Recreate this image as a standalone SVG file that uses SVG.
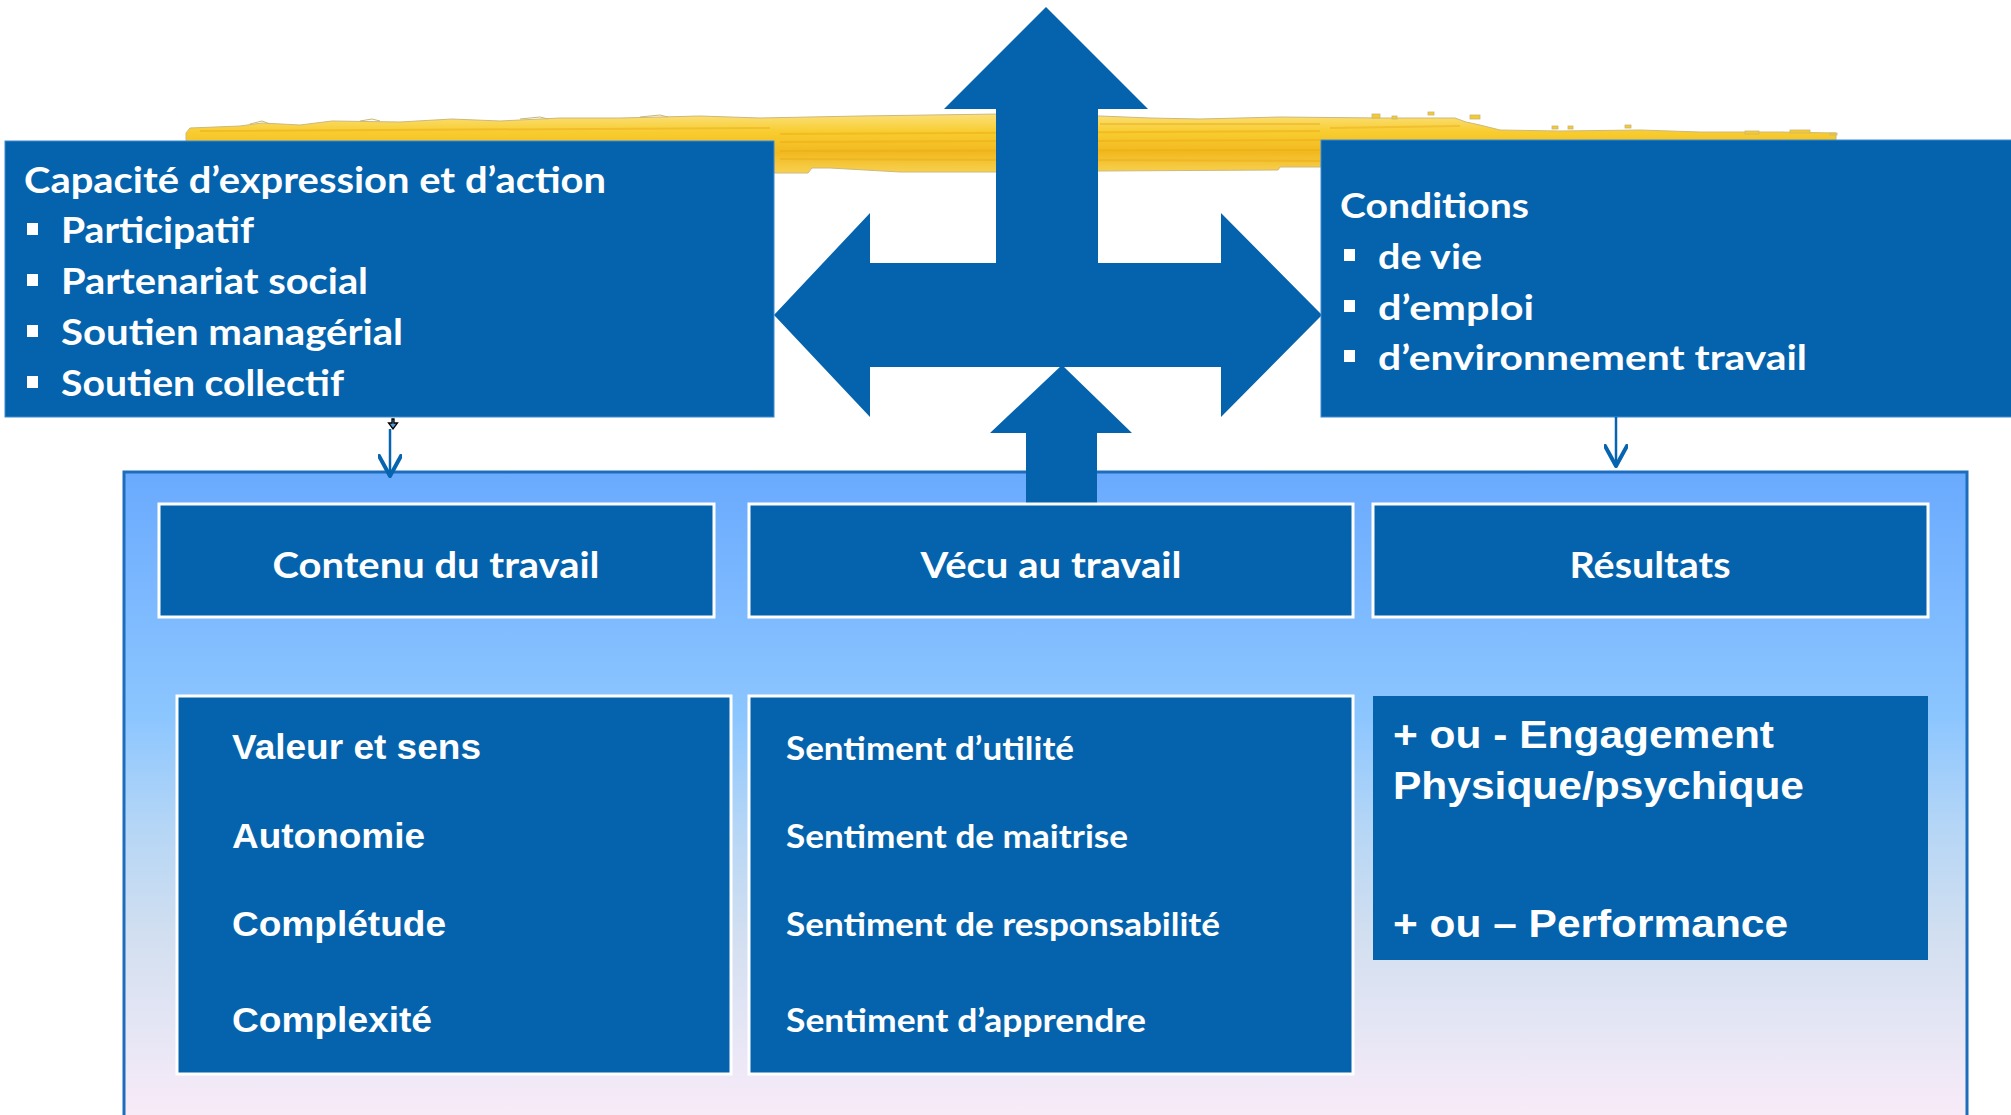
<svg xmlns="http://www.w3.org/2000/svg" width="2011" height="1115" viewBox="0 0 2011 1115">
  <defs>
    <linearGradient id="panelFill" x1="0" y1="0" x2="0" y2="1">
      <stop offset="0" stop-color="#6aaafe"/>
      <stop offset="0.38" stop-color="#8cc6ff"/>
      <stop offset="0.55" stop-color="#b5d6f6"/>
      <stop offset="0.72" stop-color="#d2dff0"/>
      <stop offset="0.87" stop-color="#e6e6f5"/>
      <stop offset="1" stop-color="#f9ebf8"/>
    </linearGradient>
    <linearGradient id="brush" x1="0" y1="0" x2="0" y2="1">
      <stop offset="0" stop-color="#fbe07a"/>
      <stop offset="0.3" stop-color="#f8cd30"/>
      <stop offset="0.65" stop-color="#f2b91f"/>
      <stop offset="1" stop-color="#f7d150"/>
    </linearGradient>
    <marker id="vee" markerUnits="userSpaceOnUse" viewBox="0 0 24 24" markerWidth="24" markerHeight="24" refX="22" refY="12" orient="auto">
      <path d="M2,1 L22,12 L2,23" fill="none" stroke="#0765b0" stroke-width="4" stroke-linecap="round" stroke-linejoin="round"/>
    </marker>
    <style>
      .blue { fill: #0563ad; }
      .framed { fill: #0563ad; stroke: #ffffff; stroke-width: 3; }
      .cal { font-family: Lato, "Open Sans", "Noto Sans", sans-serif; font-weight: 700; fill: #ffffff; }
      .ari { font-family: "Liberation Sans", Arial, sans-serif; font-weight: 700; fill: #ffffff; }
      .bullet { fill: #ffffff; }
      .link { fill: none; stroke: #0765b0; stroke-width: 2.5; }
      .speck { fill: #f6c92e; stroke: #c9b679; stroke-width: 0.8; }
      .streak { stroke: #e9a916; stroke-width: 2; opacity: 0.45; fill: none; }
    </style>
  </defs>

  <rect width="2011" height="1115" fill="#ffffff"/>

  <!-- yellow brush stroke behind the top row -->
  <g id="brush-stroke">
    <path d="M186,133 L190,128 L240,126 L262,123 L300,125 L332,121 L400,122 L452,119 L500,121 L560,118 L620,118 L700,116 L760,118 L860,116 L1000,114 L1100,116 L1150,118 L1200,119 L1280,117 L1380,118 L1455,118 L1466,122 L1480,125 L1500,130 L1560,131 L1640,130 L1700,132 L1780,132 L1836,133 L1836,160 L1321,160 L1321,167 L1280,167 L1278,170 L1100,171 L1000,172 L900,172 L830,168 L812,168 L808,173 L774,173 L774,160 L186,160 Z" fill="url(#brush)" stroke="#cdb97c" stroke-width="1"/>
    <path class="streak" d="M200,131 L770,128 M780,134 L1320,131 M780,142 L1320,140 M780,151 L1320,150 M780,159 L1320,161 M1100,124 L1320,124 M1330,128 L1460,126"/>
    <path d="M250,124 L262,121 L270,124 M360,121 L372,119 L380,121 M520,119 L540,117 L548,119 M640,117 L660,115 L668,117" stroke="#c9b679" stroke-width="1" fill="none"/>
    <rect class="speck" x="1372" y="114" width="8" height="4"/>
    <rect class="speck" x="1392" y="116" width="5" height="3"/>
    <rect class="speck" x="1428" y="112" width="6" height="3"/>
    <rect class="speck" x="1470" y="115" width="10" height="4"/>
    <rect class="speck" x="1552" y="126" width="6" height="3"/>
    <rect class="speck" x="1568" y="126" width="5" height="3"/>
    <rect class="speck" x="1625" y="125" width="6" height="3"/>
    <rect class="speck" x="1745" y="131" width="14" height="3"/>
    <rect class="speck" x="1790" y="130" width="20" height="3"/>
    <rect class="speck" x="1830" y="133" width="7" height="2"/>
  </g>

  <!-- four-way block arrow -->
  <g id="cross-arrow">
    <path class="blue" d="M1046,7 L1148,109 L1098,109 L1098,263 L1221,263 L1221,213 L1322,315 L1221,417 L1221,367 L870,367 L870,417 L774,315 L870,213 L870,263 L996,263 L996,109 L944,109 Z"/>
  </g>

  <!-- large panel -->
  <g id="panel">
    <rect x="124" y="472" width="1843" height="645" fill="url(#panelFill)" stroke="#1e6dbd" stroke-width="3"/>
  </g>

  <!-- upward arrow from the middle column -->
  <g id="rise-arrow">
    <path class="blue" d="M1062,365 L1132,433 L1097,433 L1097,505 L1026,505 L1026,433 L990,433 Z"/>
  </g>

  <g id="capacite">
    <rect x="5" y="141" width="769" height="276" class="blue" stroke="#3d8ad0" stroke-width="1"/>
    <text class="cal" x="24" y="193" font-size="37" textLength="582" lengthAdjust="spacingAndGlyphs">Capacité d’expression et d’action</text>
    <rect class="bullet" x="27" y="223" width="11" height="12"/>
    <text class="cal" x="61" y="243" font-size="37" textLength="193" lengthAdjust="spacingAndGlyphs">Participatif</text>
    <rect class="bullet" x="27" y="274" width="11" height="12"/>
    <text class="cal" x="61" y="294" font-size="37" textLength="307" lengthAdjust="spacingAndGlyphs">Partenariat social</text>
    <rect class="bullet" x="27" y="325" width="11" height="12"/>
    <text class="cal" x="61" y="345" font-size="37" textLength="342" lengthAdjust="spacingAndGlyphs">Soutien managérial</text>
    <rect class="bullet" x="27" y="376" width="11" height="12"/>
    <text class="cal" x="61" y="396" font-size="37" textLength="283" lengthAdjust="spacingAndGlyphs">Soutien collectif</text>
  </g>

  <g id="conditions">
    <rect x="1321" y="140" width="700" height="277" class="blue" stroke="#3d8ad0" stroke-width="1"/>
    <text class="cal" x="1340" y="218" font-size="35" textLength="189" lengthAdjust="spacingAndGlyphs">Conditions</text>
    <rect class="bullet" x="1344" y="249" width="11" height="12"/>
    <text class="cal" x="1378" y="269" font-size="35" textLength="104" lengthAdjust="spacingAndGlyphs">de vie</text>
    <rect class="bullet" x="1344" y="300" width="11" height="12"/>
    <text class="cal" x="1378" y="320" font-size="35" textLength="156" lengthAdjust="spacingAndGlyphs">d’emploi</text>
    <rect class="bullet" x="1344" y="350" width="11" height="12"/>
    <text class="cal" x="1378" y="370" font-size="35" textLength="429" lengthAdjust="spacingAndGlyphs">d’environnement travail</text>
  </g>

  <g id="contenu-header">
    <rect class="framed" x="159" y="504" width="555" height="113"/>
    <text class="cal" x="436" y="578" font-size="37" text-anchor="middle" textLength="327" lengthAdjust="spacingAndGlyphs">Contenu du travail</text>
  </g>

  <g id="vecu-header">
    <rect class="framed" x="749" y="504" width="604" height="113"/>
    <text class="cal" x="1051" y="578" font-size="37" text-anchor="middle" textLength="261" lengthAdjust="spacingAndGlyphs">Vécu au travail</text>
  </g>

  <g id="resultats-header">
    <rect class="framed" x="1373" y="504" width="555" height="113"/>
    <text class="cal" x="1650" y="578" font-size="37" text-anchor="middle" textLength="161" lengthAdjust="spacingAndGlyphs">Résultats</text>
  </g>

  <g id="contenu-items">
    <rect class="framed" x="177" y="696" width="554" height="378"/>
    <text class="ari" x="232" y="759" font-size="35" textLength="249" lengthAdjust="spacingAndGlyphs">Valeur et sens</text>
    <text class="ari" x="232" y="848" font-size="35" textLength="193" lengthAdjust="spacingAndGlyphs">Autonomie</text>
    <text class="ari" x="232" y="936" font-size="35" textLength="214" lengthAdjust="spacingAndGlyphs">Complétude</text>
    <text class="ari" x="232" y="1032" font-size="35" textLength="200" lengthAdjust="spacingAndGlyphs">Complexité</text>
  </g>

  <g id="vecu-items">
    <rect class="framed" x="749" y="696" width="604" height="378"/>
    <text class="cal" x="786" y="760" font-size="32" textLength="288" lengthAdjust="spacingAndGlyphs">Sentiment d’utilité</text>
    <text class="cal" x="786" y="848" font-size="32" textLength="342" lengthAdjust="spacingAndGlyphs">Sentiment de maitrise</text>
    <text class="cal" x="786" y="936" font-size="32" textLength="434" lengthAdjust="spacingAndGlyphs">Sentiment de responsabilité</text>
    <text class="cal" x="786" y="1032" font-size="32" textLength="360" lengthAdjust="spacingAndGlyphs">Sentiment d’apprendre</text>
  </g>

  <g id="resultats-items">
    <rect class="blue" x="1373" y="696" width="555" height="264"/>
    <text class="ari" x="1393" y="748" font-size="39" textLength="381" lengthAdjust="spacingAndGlyphs">+ ou - Engagement</text>
    <text class="ari" x="1393" y="799" font-size="39" textLength="411" lengthAdjust="spacingAndGlyphs">Physique/psychique</text>
    <text class="ari" x="1393" y="937" font-size="39" textLength="395" lengthAdjust="spacingAndGlyphs">+ ou – Performance</text>
  </g>

  <!-- connectors from the top boxes down to the panel -->
  <g id="connectors">
    <path d="M392,419 L392,423 L388.5,423 L393,429 L397.5,423 L394,423 L394,419 Z" fill="#5b9bd5" stroke="#000000" stroke-width="1.3" stroke-linejoin="miter"/>
    <line class="link" x1="390" y1="429" x2="390" y2="476" marker-end="url(#vee)"/>
    <line class="link" x1="1616" y1="417" x2="1616" y2="466" marker-end="url(#vee)"/>
  </g>
</svg>
